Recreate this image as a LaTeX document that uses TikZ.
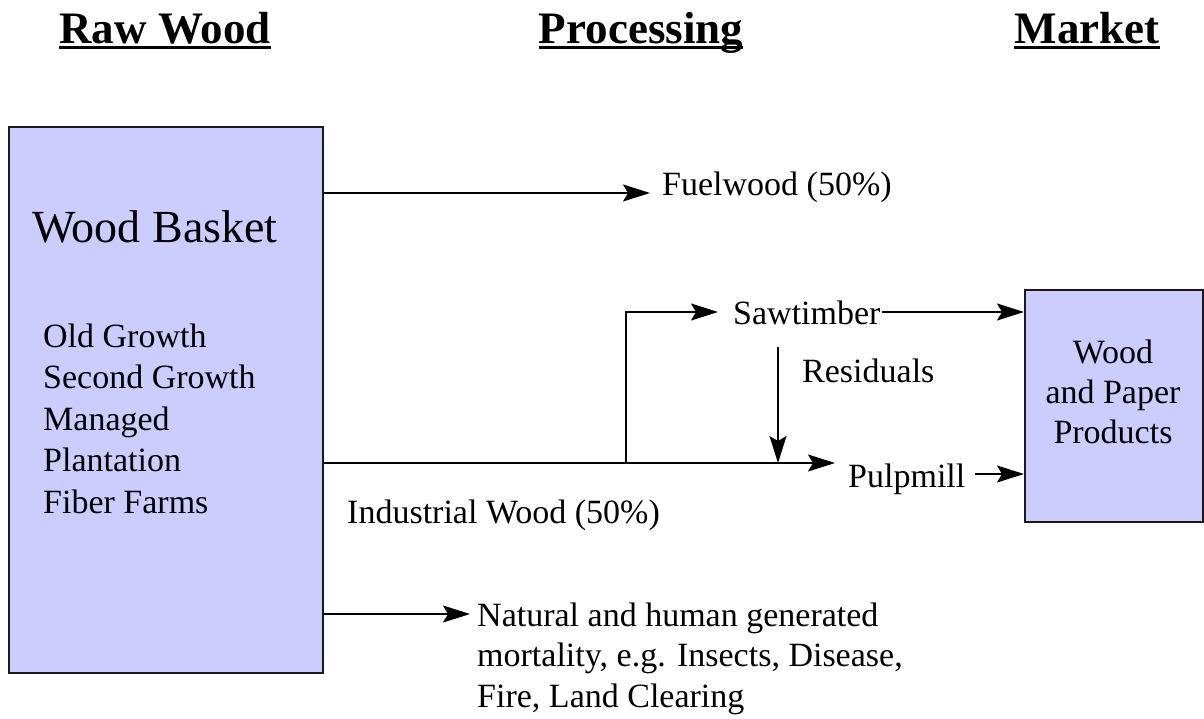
\documentclass[tikz,border=0pt]{standalone}
\usepackage{fontspec}
\setmainfont{Liberation Serif}
\usetikzlibrary{arrows.meta}
\definecolor{boxfill}{HTML}{CCCCFF}
\definecolor{boxline}{HTML}{1A1A1A}
\tikzset{
  flow/.style={line width=1.8pt, -{Stealth[length=27pt,width=17pt,inset=5pt]}},
  panel/.style={draw=boxline, fill=boxfill, line width=1.8pt},
  lbl/.style={inner sep=0pt, anchor=base west, font=\fontsize{34}{41.5}\selectfont, align=left},
  head/.style={inner sep=0pt, anchor=base, font=\fontsize{45}{50}\selectfont\bfseries},
  uline/.style={line width=3pt}
}
\begin{document}
\begin{tikzpicture}[x=1pt,y=-1pt]
\useasboundingbox (0,0) rectangle (1204,719);
% headings
\node[head] (h1) at (165,44) {Raw Wood};
\node[head] (h2) at (641,44) {Processing};
\node[head] (h3) at (1087,44) {Market};
\foreach \h in {h1,h2,h3} {
  \draw[uline] ([yshift=-4pt]\h.base west) -- ([yshift=-4pt]\h.base east);
}
% boxes
\node[panel, minimum width=314pt, minimum height=546pt, anchor=north west, inner sep=0pt] (basket) at (8,126) {};
\node[panel, minimum width=178pt, minimum height=232pt, anchor=north west, inner sep=0pt] (market) at (1024,289) {};
% basket text
\node[lbl, font=\fontsize{46}{50}\selectfont] (wb) at (32,243) {Wood Basket};
\node[lbl] (list) at (43,513) {Old Growth\\Second Growth\\Managed\\Plantation\\Fiber Farms};
% market text
\node[inner sep=0pt, anchor=base, align=center, font=\fontsize{34}{40}\selectfont] (mt) at (1113,443) {Wood\\and Paper\\Products};
% flow labels
\node[lbl] (fuel) at (662,196) {Fuelwood (50\%)};
\node[lbl] (saw) at (733,324) {Sawtimber};
\node[lbl] (resid) at (802,382) {Residuals};
\node[lbl] (pulp) at (848,487) {Pulpmill};
\node[lbl] (ind) at (347,523) {Industrial Wood (50\%)};
\node[lbl, font=\fontsize{34}{40.5}\selectfont] (mort) at (477,707) {Natural and human generated\\mortality, e.g. Insects, Disease,\\Fire, Land Clearing};
% coordinates
\coordinate (fuelTip) at (650,193);
\coordinate (branch) at (626,463);
\coordinate (branchTop) at (626,312);
\coordinate (sawTip) at (718,312);
\coordinate (sawOut) at (882,312);
\coordinate (residTop) at (778,347);
\coordinate (residTip) at (778,463);
\coordinate (pulpTip) at (835,463);
\coordinate (pulpOut) at (975,474);
\coordinate (mortTip) at (470,614);
% connectors
\draw[flow] (basket.east |- fuelTip) -- (fuelTip);
\draw[flow] (basket.east |- pulpTip) -- (pulpTip);
\draw[flow] (branch) -- (branchTop) -- (sawTip);
\draw[flow] (sawOut) -- (market.west |- sawOut);
\draw[flow] (residTop) -- (residTip);
\draw[flow] (pulpOut) -- (market.west |- pulpOut);
\draw[flow] (basket.east |- mortTip) -- (mortTip);
\end{tikzpicture}
\end{document}
